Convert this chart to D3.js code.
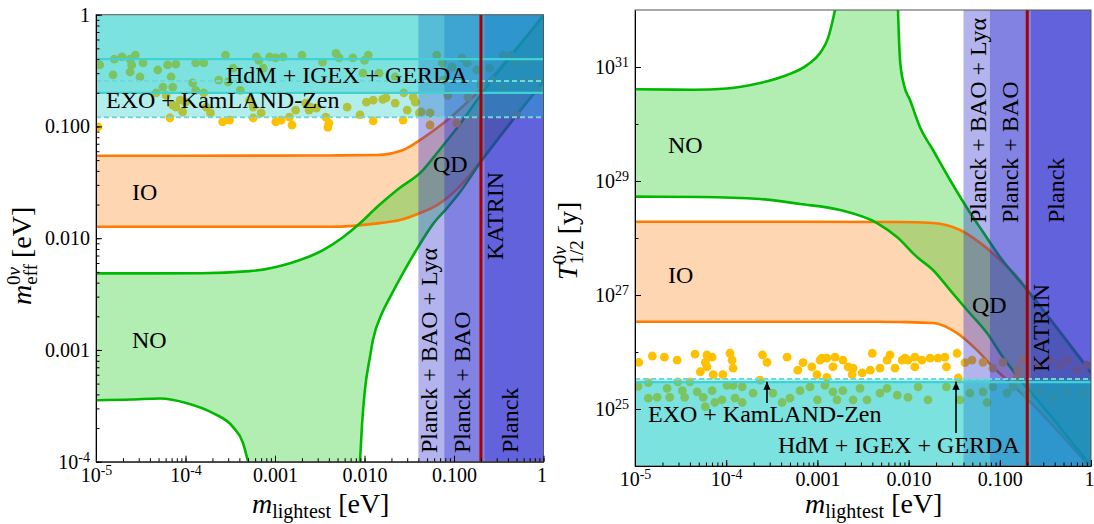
<!DOCTYPE html>
<html>
<head>
<meta charset="utf-8">
<script src="https://cdn.jsdelivr.net/npm/d3@7"></script>
<style>
  body { margin: 0; background: #fff; }
  svg text { font-family: "Liberation Serif", "DejaVu Serif", serif; }
</style>
</head>
<body>
<svg id="chart" width="1094" height="524"></svg>
<script>
// ---------- data ----------
// left panel: m_eff [eV] against m_lightest [eV]
const ioUpperL = [[1e-5,0.0547],[1e-3,0.0548],[4.1e-3,0.055],[0.0138,0.0555],[0.0269,0.0615],[0.0417,0.0755],[0.0646,0.0968],[0.090,0.119],[0.133,0.158],[0.195,0.212],[1,1.0]];
const ioLowerL = [[1e-5,0.01265],[4.1e-3,0.01265],[0.0149,0.01365],[0.0249,0.01452],[0.0417,0.0168],[0.0646,0.0198],[0.0835,0.0229],[0.108,0.0275],[0.14,0.0345],[0.195,0.048],[1,0.26]];
const noUpperL = [[1e-5,0.00484],[1.45e-4,0.00486],[5.2e-4,0.00507],[1.47e-3,0.00597],[3.44e-3,0.00781],[5.75e-3,0.0102],[8.9e-3,0.0136],[0.0138,0.019],[0.0231,0.027],[0.0451,0.0407],[0.0646,0.0578],[0.090,0.0804],[0.108,0.0968],[0.195,0.187],[1,0.973]];
const noLowerLeftL = [[1e-5,3.55e-4],[2.5e-5,3.6e-4],[5.2e-5,3.68e-4],[1.04e-4,3.34e-4],[2.03e-4,2.72e-4],[3.4e-4,2.04e-4],[4.39e-4,1.47e-4],[5.0e-4,1e-4]];
const noLowerRightL = [[8.9e-3,1e-4],[9.4e-3,2.21e-4],[0.0101,4.37e-4],[0.0115,8.63e-4],[0.0124,1.22e-3],[0.0157,2.14e-3],[0.0193,2.97e-3],[0.0269,4.87e-3],[0.0396,8.3e-3],[0.0582,0.01337],[0.0835,0.0186],[0.117,0.0259],[0.195,0.047],[1,0.25]];
const dotsL = [[1.1e-5,0.355],[1.55e-5,0.29],[1.6e-5,0.40],[1.95e-5,0.42],[2.4e-5,0.40],[2.75e-5,0.435],[2.5e-5,0.355],[2.4e-5,0.307],[3.35e-5,0.37],[3.1e-5,0.277],[4.9e-5,0.32],[6.3e-5,0.355],[6.9e-5,0.277],[7.8e-5,0.362],[5.6e-5,0.225],[4.7e-5,0.20],[6.1e-5,0.19],[7.2e-5,0.225],[7.8e-5,0.149],[7.2e-5,0.155],[9.3e-5,0.135],[1.2e-4,0.245],[1.3e-4,0.37],[1.6e-4,0.37],[1.3e-4,0.21],[1.6e-4,0.20],[1.7e-4,0.149],[1.9e-4,0.132],[2.6e-4,0.11],[3.1e-4,0.114],[2.35e-4,0.26],[2.8e-4,0.435],[3.0e-4,0.25],[6.2e-4,0.42],[6.6e-4,0.39],[7.4e-4,0.333],[1.23e-3,0.42],[1.02e-3,0.41],[2.0e-3,0.435],[3.4e-3,0.377],[4.8e-3,0.45],[5.2e-3,0.41],[7.4e-3,0.41],[1.0e-2,0.39],[1.1e-2,0.435],[9.6e-3,0.30],[1.05e-2,0.165],[1.25e-2,0.172],[2.2e-2,0.162],[1.74e-2,0.18],[2.75e-2,0.20],[3.5e-2,0.183],[1.02e-3,0.11],[1.17e-3,0.114],[1.45e-3,0.121],[1.7e-3,0.14],[2.4e-3,0.14],[2.9e-3,0.146],[4.0e-3,0.107],[1.25e-2,0.112],[2.7e-2,0.114],[3.7e-3,0.121],[2.2e-3,0.162],[1.45e-2,0.30],[2.2e-2,0.277],[4.3e-2,0.135],[1.05e-5,0.099],[6.7e-5,0.119],[5.7e-4,0.119],[7.0e-4,0.132],[1.55e-3,0.103],[8.7e-5,0.172],[1.0e-4,0.165],[8.7e-4,0.42],[5.7e-4,0.149],[3.9e-3,0.098],[2.5e-3,0.149],[6.4e-3,0.149],[8.9e-3,0.127],[1.6e-2,0.175],[3.0e-2,0.14],[3.7e-2,0.165],[4.1e-2,0.132],[5.4e-2,0.132],[5.4e-2,0.103],[6.4e-2,0.435],[7.4e-2,0.37],[9.5e-2,0.34],[0.123,0.41],[0.14,0.37],[0.143,0.183],[0.107,0.107],[8.5e-2,0.19],[7.6e-2,0.26],[0.25,0.333],[0.355,0.435],[0.43,0.435],[0.5,0.37],[0.66,0.39],[0.59,0.25],[0.80,0.26],[0.85,0.21],[0.5,0.127],[0.355,0.225],[0.27,0.26],[0.18,0.32],[0.2,0.235],[4.1e-4,0.21],[5.2e-4,0.172],[3.4e-4,0.333]];

// right panel: T_1/2 [y] against m_lightest [eV]
const ioTopR = [[1e-5,1.93e28],[6.45e-4,1.93e28],[8.05e-3,1.91e28],[0.0185,1.83e28],[0.0366,1.38e28],[0.0607,8.2e27],[0.1005,4.1e27],[0.155,2.07e27],[0.214,1.08e27],[1,4.46e25]];
const ioBottomR = [[1e-5,3.4e26],[4.85e-3,3.4e26],[8.05e-3,3.36e26],[0.0185,3.23e26],[0.034,2.15e26],[0.0562,1.08e26],[0.0841,5.46e25],[0.12,3.23e25],[0.167,1.99e25],[1,9.2e23]];
const noTopLeftR = [[1e-5,4.06e30],[4.33e-5,4.0e30],[1.02e-4,4.2e30],[2.35e-4,5.24e30],[4.65e-4,7.24e30],[7.7e-4,1.08e31],[1.07e-3,1.76e31],[1.31e-3,3.23e31],[1.45e-3,5.92e31],[1.56e-3,1e32]];
const noTopRightR = [[7.65e-3,1e32],[8.05e-3,1.33e31],[8.9e-3,4.83e30],[0.01036,2.64e30],[0.0133,8.86e29],[0.0185,3.5e29],[0.0285,1.04e29],[0.0437,3.36e28],[0.0655,1.27e28],[0.1005,4.64e27],[0.1995,1.22e27],[1,4.29e25]];
const noBottomR = [[1e-5,5.31e28],[5.16e-5,5.24e28],[2.35e-4,4.83e28],[6.45e-4,3.95e28],[1.77e-3,3.1e28],[4.51e-3,1.83e28],[7.46e-3,1.04e28],[0.01236,4.64e27],[0.0185,2.75e27],[0.0285,1.22e27],[0.0437,5.46e26],[0.0724,2.15e26],[0.108,8.17e25],[0.158,3.64e25],[0.276,1.27e25],[1,1e24]];
const dotsR = [[1.1e-5,6.6e25],[1.55e-5,8.5e25],[2.1e-5,8.1e25],[2.9e-5,7.2e25],[4.55e-5,9.2e25],[6.15e-5,8.9e25],[7.0e-5,8.1e25],[5.9e-5,6.6e25],[6.15e-5,5.5e25],[5.2e-5,4.5e25],[7.2e-5,4.0e25],[9.2e-5,4.0e25],[1.16e-4,7.2e25],[1.19e-4,5.2e25],[1.1e-4,9.5e25],[2.5e-4,8.9e25],[2.8e-4,6.6e25],[4.65e-4,8.1e25],[6.1e-4,4.8e25],[6.95e-4,6.5e25],[8.7e-4,5.5e25],[1.07e-3,7.2e25],[1.27e-3,7.8e25],[9.9e-4,4.0e25],[1.27e-3,3.6e25],[1.56e-3,8.1e25],[1.48e-3,5.5e25],[1.12e-3,7.8e25],[1.9e-3,7.2e25],[2.17e-3,5.5e25],[2.46e-3,5.2e25],[2.4e-3,4.0e25],[3.1e-3,4.3e25],[3.8e-3,4.8e25],[4.0e-3,9.5e25],[4.85e-3,5.2e25],[5.8e-3,7.2e25],[6.25e-3,8.9e25],[7.1e-3,5.2e25],[8.5e-3,7.2e25],[9.1e-3,7.8e25],[9.85e-3,7.2e25],[1.17e-2,8.1e25],[1.17e-2,5.5e25],[1.4e-2,7.2e25],[1.72e-2,7.8e25],[2.1e-2,7.8e25],[2.5e-2,8.1e25],[2.6e-2,5.5e25],[3.4e-2,9.5e25],[3.5e-2,3.5e25],[4.15e-2,6.5e25],[4.95e-2,7.2e25],[6.55e-2,6.6e25],[8.4e-2,5.2e25],[0.108,6.6e25],[0.158,4.8e25],[0.155,3.6e25],[0.18,7.2e25],[0.256,5.9e25],[0.355,7.2e25],[0.457,5.9e25],[0.545,7.2e25],[0.70,4.8e25],[0.90,5.9e25],[2.35e-4,3.2e25],
  [1.08e-5,2.5e25],[1.4e-5,2.9e25],[1.4e-5,1.55e25],[1.75e-5,1.6e25],[2.25e-5,2.3e25],[2.4e-5,1.6e25],[2.95e-5,3.0e25],[3.3e-5,2.1e25],[3.5e-5,1.6e25],[4.0e-5,3.0e25],[4.8e-5,2.0e25],[5.6e-5,1.6e25],[5.9e-5,1.1e25],[7.0e-5,2.1e25],[7.5e-5,1.3e25],[9.0e-5,1.45e25],[1.02e-4,2.6e25],[1.19e-4,2.6e25],[1.5e-4,2.45e25],[1.25e-4,1.55e25],[1.5e-4,1.3e25],[1.97e-4,1.9e25],[3.25e-4,1.9e25],[4.1e-4,1.3e25],[5.0e-4,1.55e25],[6.45e-4,2.1e25],[8.3e-4,2.45e25],[1.0e-3,1.45e25],[1.48e-3,2.0e25],[1.64e-3,1.45e25],[1.21e-3,2.6e25],[1.9e-3,2.1e25],[2.46e-3,1.45e25],[2.93e-3,2.3e25],[3.5e-3,1.45e25],[4.85e-3,1.9e25],[5.8e-3,2.3e25],[7.5e-3,1.75e25],[9.85e-3,1.6e25],[1.27e-2,2.45e25],[1.63e-2,1.45e25],[2.6e-2,2.45e25],[3.65e-2,1.45e25],[4.7e-2,1.9e25],[6.55e-2,2.0e25],[7.25e-2,1.3e25],[8.4e-2,2.45e25],[0.12,1.9e25],[0.14,2.45e25],[0.2,1.75e25],[0.275,2.0e25],[0.383,1.6e25],[0.545,2.0e25],[0.82,1.9e25]];

// experimental limits
const meffLimitSolid = [0.40, 0.20];
const meffLimitDashed = [0.255, 0.121];
const halfLifeLimitSolid = [2.95e25];
const halfLifeLimitDashed = [3.36e25];
const cosmoBounds = [0.04, 0.078, 0.22];   // Lyα, BAO, Planck
const katrinBound = 0.2;
const arrowMass = [2.8e-4, 0.0331];
const arrowTail = [1.27e25, 3.8e24];
const arrowHead = [3.0e25, 3.0e25];

// ticks
const massTicks = [1e-5, 1e-4, 1e-3, 1e-2, 0.1, 1];
const massTickLabels = [['10','-5'], ['10','-4'], ['0.001'], ['0.010'], ['0.100'], ['1']];
const meffTicks = [1e-4, 1e-3, 1e-2, 0.1, 1];
const meffTickLabels = [['10','-4'], ['0.001'], ['0.010'], ['0.100'], ['1']];
const halfLifeTicks = [1e25, 1e27, 1e29, 1e31];
const halfLifeTickLabels = [['10','25'], ['10','27'], ['10','29'], ['10','31']];
const halfLifeMinor = [1e24, 1e26, 1e28, 1e30];

const FONT = '"Liberation Serif", "DejaVu Serif", serif';

class MassPanel {
    constructor(_config, _data) {
        this.config = _config;
        this.data = _data;
        this.initVis();
    }

    initVis() {
        let vis = this;
        const c = vis.config;

        vis.svg = d3.select('#chart');
        vis.xScale = d3.scaleLog().domain([1e-5, 1]).range([c.left, c.right]);
        vis.yScale = d3.scaleLog().domain(c.yDomain).range([c.bottom, c.top]);

        vis.svg.append('clipPath').attr('id', 'clip-' + c.id)
            .append('rect')
            .attr('x', c.left).attr('y', c.top)
            .attr('width', c.right - c.left).attr('height', c.bottom - c.top);
        vis.plot = vis.svg.append('g').attr('clip-path', `url(#clip-${c.id})`);

        vis.line = d3.line()
            .x(d => vis.xScale(d[0]))
            .y(d => vis.yScale(d[1]))
            .curve(d3.curveMonotoneX);

        vis.renderVis();
    }

    // several curves chained into one closed outline
    outline(parts) {
        return parts.map((p, i) => i === 0 ? this.line(p) : this.line(p).replace(/^M/, 'L')).join('') + 'Z';
    }

    renderVis() {
        let vis = this;
        const c = vis.config, d = vis.data;
        const x = vis.xScale, y = vis.yScale;
        const H = c.bottom - c.top;

        // IO and NO bands
        vis.plot.append('path')
            .attr('d', vis.outline([d.ioA, d.ioB.slice().reverse()]))
            .attr('fill', '#ff7800').attr('fill-opacity', 0.3);
        vis.plot.append('path')
            .attr('d', vis.outline(d.noOutline))
            .attr('fill', '#00c800').attr('fill-opacity', 0.3);

        [d.ioA, d.ioB].forEach(arr => {
            vis.plot.append('path').attr('d', vis.line(arr))
                .attr('fill', 'none').attr('stroke', '#ff7a00').attr('stroke-width', 2.6);
        });
        d.noLines.forEach(arr => {
            vis.plot.append('path').attr('d', vis.line(arr))
                .attr('fill', 'none').attr('stroke', '#00b800').attr('stroke-width', 2.6);
        });

        // scatter
        vis.plot.selectAll('.pt')
            .data(d.dots)
            .join('circle')
            .attr('class', 'pt')
            .attr('cx', p => x(p[0]))
            .attr('cy', p => y(p[1]))
            .attr('r', 4.4)
            .attr('fill', '#ffc000');

        // cosmology strips
        cosmoBounds.forEach(b => {
            vis.plot.append('rect')
                .attr('x', x(b)).attr('y', c.top)
                .attr('width', c.right - x(b)).attr('height', H)
                .attr('fill', '#2929cf').attr('fill-opacity', 0.355);
        });

        // 0vbb limits
        d.limitFills.forEach(v => {
            const yy = y(v);
            vis.plot.append('rect')
                .attr('x', c.left)
                .attr('y', c.limitAbove ? c.top : yy)
                .attr('width', c.right - c.left)
                .attr('height', c.limitAbove ? yy - c.top : c.bottom - yy)
                .attr('fill', '#00c7c1').attr('fill-opacity', 0.3);
        });
        d.limitDashed.forEach(v => {
            vis.plot.append('line')
                .attr('x1', c.left).attr('x2', c.right)
                .attr('y1', y(v)).attr('y2', y(v))
                .attr('stroke', '#6fd8d8').attr('stroke-width', 2).attr('stroke-dasharray', '5,3');
        });
        d.limitSolid.forEach(v => {
            vis.plot.append('line')
                .attr('x1', c.left).attr('x2', c.right)
                .attr('y1', y(v)).attr('y2', y(v))
                .attr('stroke', '#40d2d2').attr('stroke-width', 2.2);
        });

        // KATRIN
        vis.plot.append('line')
            .attr('x1', x(katrinBound)).attr('x2', x(katrinBound))
            .attr('y1', c.top).attr('y2', c.bottom)
            .attr('stroke', '#a80000').attr('stroke-width', 3);

        // labels
        c.labels.forEach(l => {
            vis.svg.append('text')
                .attr('transform', l.rot ? `translate(${l.x},${l.y}) rotate(-90)` : `translate(${l.x},${l.y})`)
                .attr('font-size', 24)
                .attr('fill', '#000')
                .text(l.t);
        });

        // arrows
        if (d.arrows) {
            d.arrows.forEach(a => {
                vis.svg.append('line')
                    .attr('x1', x(a.m)).attr('x2', x(a.m))
                    .attr('y1', y(a.from)).attr('y2', y(a.to))
                    .attr('stroke', '#000').attr('stroke-width', 1.6)
                    .attr('marker-end', 'url(#arrowHead)');
            });
        }

        // frame
        vis.svg.append('rect')
            .attr('x', c.left).attr('y', c.top)
            .attr('width', c.right - c.left).attr('height', H)
            .attr('fill', 'none').attr('stroke', '#555').attr('stroke-width', 1);

        vis.drawAxes();
    }

    drawAxes() {
        let vis = this;
        const c = vis.config;
        const x = vis.xScale, y = vis.yScale;

        const setLabel = (sel, parts, supSize) => {
            sel.text(null);
            sel.append('tspan').text(parts[0]);
            if (parts[1]) sel.append('tspan').attr('font-size', supSize).attr('dy', -7).text(parts[1]);
        };

        // bottom axis
        vis.svg.append('g')
            .attr('transform', `translate(0,${c.bottom})`)
            .call(d3.axisBottom(x).tickValues(x.ticks()).tickSizeInner(-3.5).tickSizeOuter(0).tickFormat(''))
            .call(g => g.select('.domain').remove());
        const xg = vis.svg.append('g')
            .attr('transform', `translate(0,${c.bottom})`)
            .call(d3.axisBottom(x).tickValues(massTicks).tickSizeInner(-6).tickSizeOuter(0).tickPadding(6).tickFormat(''))
            .attr('font-family', FONT).attr('font-size', 20);
        xg.selectAll('.tick text').each(function (v, i) {
            setLabel(d3.select(this), massTickLabels[i], 14);
            // the last label sits on the panel edge
            if (i === massTicks.length - 1) d3.select(this).attr('dx', -2);
        });

        // left axis
        vis.svg.append('g')
            .attr('transform', `translate(${c.left},0)`)
            .call(d3.axisLeft(y).tickValues(c.yMinor || y.ticks()).tickSizeInner(-3.5).tickSizeOuter(0).tickFormat(''))
            .call(g => g.select('.domain').remove());
        const yg = vis.svg.append('g')
            .attr('transform', `translate(${c.left},0)`)
            .call(d3.axisLeft(y).tickValues(c.yTicks).tickSizeInner(-6).tickSizeOuter(0).tickPadding(6).tickFormat(''))
            .attr('font-family', FONT).attr('font-size', 20);
        yg.selectAll('.tick text').each(function (v, i) { setLabel(d3.select(this), c.yTickLabels[i], 14); });
    }
}

const svg = d3.select('#chart');
svg.append('defs').append('marker')
    .attr('id', 'arrowHead')
    .attr('viewBox', '0 0 10 10')
    .attr('refX', 10).attr('refY', 5)
    .attr('markerWidth', 9).attr('markerHeight', 8)
    .attr('markerUnits', 'userSpaceOnUse')
    .attr('orient', 'auto')
    .append('path').attr('d', 'M0,0.5L10,5L0,9.5Z').attr('fill', '#000');

new MassPanel({
    id: 'L', left: 96, right: 543.5, top: 14.7, bottom: 461.7,
    yDomain: [1e-4, 1], yTicks: meffTicks, yTickLabels: meffTickLabels,
    limitAbove: true,
    labels: [
        { t: 'HdM + IGEX + GERDA', x: 226, y: 83 },
        { t: 'EXO + KamLAND-Zen', x: 106, y: 108 },
        { t: 'IO', x: 132, y: 200 },
        { t: 'NO', x: 132, y: 348 },
        { t: 'QD', x: 433, y: 172 },
        { t: 'Planck + BAO + Lyα', x: 437, y: 453, rot: true },
        { t: 'Planck + BAO', x: 470, y: 453, rot: true },
        { t: 'KATRIN', x: 503, y: 260, rot: true },
        { t: 'Planck', x: 518, y: 453, rot: true }
    ]
}, {
    ioA: ioUpperL, ioB: ioLowerL,
    noOutline: [noUpperL, noLowerRightL.slice().reverse(), noLowerLeftL.slice().reverse()],
    noLines: [noUpperL, noLowerLeftL, noLowerRightL],
    dots: dotsL,
    limitFills: [meffLimitDashed[1], meffLimitSolid[1]],
    limitSolid: meffLimitSolid,
    limitDashed: meffLimitDashed
});

new MassPanel({
    id: 'R', left: 635, right: 1091, top: 10, bottom: 466,
    yDomain: [1e24, 1e32], yTicks: halfLifeTicks, yTickLabels: halfLifeTickLabels, yMinor: halfLifeMinor,
    limitAbove: false,
    labels: [
        { t: 'NO', x: 668, y: 153 },
        { t: 'IO', x: 668, y: 283 },
        { t: 'QD', x: 972, y: 313 },
        { t: 'EXO + KamLAND-Zen', x: 648, y: 422 },
        { t: 'HdM + IGEX + GERDA', x: 778, y: 453 },
        { t: 'Planck + BAO + Lyα', x: 986, y: 223, rot: true },
        { t: 'Planck + BAO', x: 1018, y: 223, rot: true },
        { t: 'KATRIN', x: 1049, y: 372, rot: true },
        { t: 'Planck', x: 1064, y: 223, rot: true }
    ]
}, {
    ioA: ioTopR, ioB: ioBottomR,
    noOutline: [noTopLeftR, noTopRightR, noBottomR.slice().reverse()],
    noLines: [noTopLeftR, noTopRightR, noBottomR],
    dots: dotsR,
    limitFills: [halfLifeLimitDashed[0], halfLifeLimitSolid[0]],
    limitSolid: halfLifeLimitSolid,
    limitDashed: halfLifeLimitDashed,
    arrows: arrowMass.map((m, i) => ({ m: m, from: arrowTail[i], to: arrowHead[i] }))
});

// axis titles
function xTitle(x0) {
    const t = svg.append('text').attr('x', x0).attr('y', 513).attr('font-size', 28);
    t.append('tspan').attr('font-style', 'italic').text('m');
    t.append('tspan').attr('font-size', 20).attr('dy', 5).text('lightest');
    t.append('tspan').attr('dy', -5).text(' [eV]');
}
xTitle(252);
xTitle(805);

const yl = svg.append('text').attr('transform', 'translate(31,305) rotate(-90)').attr('font-size', 28);
yl.append('tspan').attr('font-style', 'italic').text('m');
yl.append('tspan').attr('font-size', 19).attr('dy', 6).text('eff');
yl.append('tspan').attr('font-size', 19).attr('dx', -21).attr('dy', -17).text('0');
yl.append('tspan').attr('font-size', 19).attr('font-style', 'italic').text('ν');
yl.append('tspan').attr('dx', 2).attr('dy', 11).text(' [eV]');

const yr = svg.append('text').attr('transform', 'translate(577,280) rotate(-90)').attr('font-size', 28);
yr.append('tspan').attr('font-style', 'italic').text('T');
yr.append('tspan').attr('font-size', 19).attr('dy', 6).text('1/2');
yr.append('tspan').attr('font-size', 19).attr('dx', -24).attr('dy', -17).text('0');
yr.append('tspan').attr('font-size', 19).attr('font-style', 'italic').text('ν');
yr.append('tspan').attr('dx', 5).attr('dy', 11).text(' [y]');
</script>
</body>
</html>
